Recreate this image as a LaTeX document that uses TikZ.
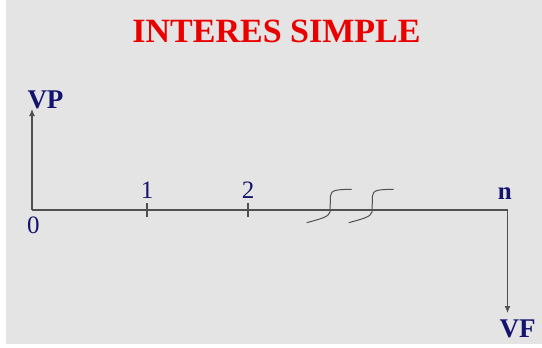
\documentclass[tikz,border=0pt]{standalone}
\usepackage{fontspec}
\setmainfont{Liberation Serif}
\usetikzlibrary{arrows.meta,positioning,calc}
\definecolor{navy}{RGB}{20,20,110}
\definecolor{tred}{RGB}{235,0,0}
\definecolor{axisgray}{RGB}{80,80,80}
\definecolor{stone}{RGB}{228,228,228}

\begin{document}
\begin{tikzpicture}[
 x=1pt,y=-1pt,
 every node/.style={inner sep=0pt,outer sep=0pt},
 title/.style={font=\fontsize{34}{34}\selectfont\bfseries,text=tred,anchor=base},
 val/.style={font=\fontsize{27}{27}\selectfont\bfseries,text=navy,anchor=base},
 num/.style={font=\fontsize{25}{25}\selectfont,text=navy,anchor=base},
 axis/.style={draw=axisgray,line width=1.2pt},
 arr/.style={axis,-{Latex[length=7pt,width=6pt]}},
 brk/.style={draw=axisgray,line width=1pt}
]
 \fill[white] (0,0) rectangle (542,348);
 \fill[stone] (6,0) rectangle (542,344);
 \node[title] (title) at (276.5,42) {INTERES SIMPLE};
 % linea de tiempo
 \coordinate (o) at (32,210);
 \coordinate (t1) at (147,210);
 \coordinate (t2) at (248,210);
 \coordinate (tn) at (507.5,210);
 \coordinate (vptip) at (32,109);
 \coordinate (vftip) at (507.5,313);
 \draw[axis] (o) -- (tn);
 \draw[arr] (o) -- (vptip);
 \draw[arr] (tn) -- (vftip);
 \foreach \t in {t1,t2}
   \draw[axis] ($(\t)+(0,-7)$) -- ($(\t)+(0,7)$);
 \foreach \s in {0,42}
   \draw[brk,xshift=\s] (306.7,222.7) .. controls (320,219) and (329,217) .. (330,212)
     -- (330.5,196) .. controls (331,190) and (336,189.5) .. (351.7,189.3);
 \node[val] (vp) at (45.5,108) {VP};
 \node[val] (vf) at (517.5,337) {VF};
 \node[num] (l0) at (33.3,233) {0};
 \node[num] (l1) at (147,198) {1};
 \node[num] (l2) at (248,198) {2};
 \node[num,font=\fontsize{25}{25}\selectfont\bfseries] (ln) at (504.7,199) {n};
\end{tikzpicture}
\end{document}
